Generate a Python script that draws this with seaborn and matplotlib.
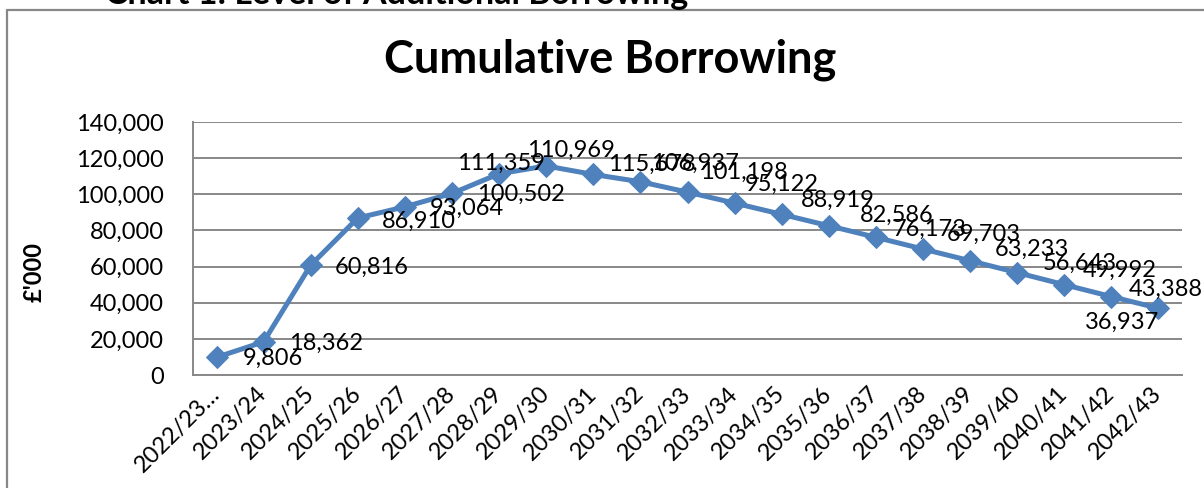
import matplotlib
matplotlib.use("Agg")
import matplotlib.pyplot as plt
import seaborn as sns
import pandas as pd
from matplotlib.lines import Line2D
from matplotlib.ticker import FuncFormatter

# ---- data ----
periods = ["2022/23\u2026", "2023/24", "2024/25", "2025/26", "2026/27", "2027/28",
           "2028/29", "2029/30", "2030/31", "2031/32", "2032/33", "2033/34",
           "2034/35", "2035/36", "2036/37", "2037/38", "2038/39", "2039/40",
           "2040/41", "2041/42", "2042/43"]
borrowing = [9806, 18362, 60816, 86910, 93064, 100502, 111359, 115678, 110969,
             106937, 101198, 95122, 88919, 82586, 76173, 69703, 63233, 56643,
             49992, 43388, 36937]
y_ticks = [0, 20000, 40000, 60000, 80000, 100000, 120000, 140000]

title = "Cumulative Borrowing"
y_label = "\u00a3'000"
top_caption = "Chart 1: Level of Additional Borrowing"

# label offsets (pixels, x right / y down) relative to each point
label_dx = [56, 62, 61, 61, 62, 69, 2, 106, -22, 55, 56, 47, 56, 68, 54, 61, 62, 63, 55, 54, -36]
label_dy = [1, 2, 2, 3, 2, 1, -10, -2, -24, -18, -20, -19, -14, -10, -8, -15, -11, -9, -14, -7, 14]

# ---- style ----
sns.set_theme(style="white")
plt.rcParams["font.family"] = ["Lato", "DejaVu Sans"]
LINE = "#4F81BD"
GRID = "#888888"
FS = 17

W, H = 1204, 488
fig = plt.figure(figsize=(W / 100, H / 100), dpi=100)
ax = fig.add_axes([193 / W, 1 - 375 / H, (1182 - 193) / W, (375 - 122) / H])

df = pd.DataFrame({"period": periods, "value": borrowing})
df["pos"] = range(len(periods))
sns.lineplot(data=df, x="pos", y="value", ax=ax, color=LINE, linewidth=3.6,
             marker="D", markersize=11, markeredgecolor=LINE, sort=False)

ax.set_xlim(-0.5, len(periods) - 0.5)
ax.set_ylim(y_ticks[0], y_ticks[-1])
ax.set_yticks(y_ticks)
ax.yaxis.set_major_formatter(FuncFormatter(lambda v, p: f"{int(v):,}"))
ax.set_xticks(range(len(periods)))
ax.set_xticklabels(periods, rotation=45, ha="right", va="center",
                   rotation_mode="anchor")
ax.tick_params(axis="x", length=0, pad=11, labelsize=FS, colors="black")
ax.tick_params(axis="y", length=0, pad=21, labelsize=FS, colors="black")
ax.set_xlabel("")
ax.set_ylabel(y_label, fontsize=FS, fontweight="bold", color="black", rotation=90)
ax.yaxis.set_label_coords((46 - 193) / (1182 - 193), (375 - 272) / (375 - 122))

ax.grid(axis="y", color=GRID, linewidth=1.4)
ax.set_axisbelow(True)
for s in ["top", "right"]:
    ax.spines[s].set_visible(False)
for s in ["left", "bottom"]:
    ax.spines[s].set_color(GRID)
    ax.spines[s].set_linewidth(1.4)

for i, v in enumerate(borrowing):
    ax.annotate(f"{v:,}", (i, v), xytext=(label_dx[i] * 0.72, -label_dy[i] * 0.72),
                textcoords="offset points", ha="center", va="center",
                fontsize=FS, color="black")

fig.text(610 / W, 1 - 60 / H, title, ha="center", va="center",
         fontsize=32.5, fontweight="bold", color="black")
fig.text(105 / W, 1 - 4 / H, top_caption, ha="left", va="baseline",
         fontsize=24.5, fontweight="bold", color="black")

# chart area border (left and top)
fig.add_artist(Line2D([7 / W, 7 / W], [0, 1 - 10 / H], color=GRID, linewidth=1.6,
                      transform=fig.transFigure))
fig.add_artist(Line2D([7 / W, 1], [1 - 10 / H, 1 - 10 / H], color=GRID, linewidth=1.6,
                      transform=fig.transFigure))

fig.savefig("out.png", dpi=100, facecolor="white")
